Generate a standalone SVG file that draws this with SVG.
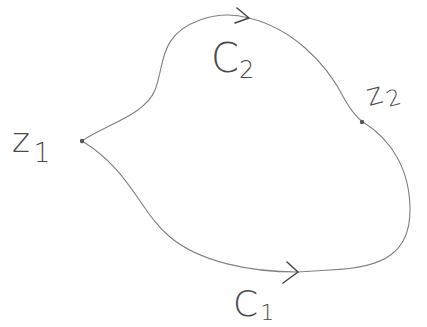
<svg xmlns="http://www.w3.org/2000/svg" width="427" height="327" viewBox="0 0 427 327">
<style>
.curve{fill:none;stroke:#808080;stroke-width:1.1;stroke-linecap:round;stroke-linejoin:round}
.arrow{fill:none;stroke:#444;stroke-width:1.5;stroke-linecap:round;stroke-linejoin:round}
.lbl{font-family:"DejaVu Sans","Liberation Sans",sans-serif;fill:#4a4a4a;font-weight:300}
.dot{fill:#555}
</style>
<rect width="427" height="327" fill="#fff"/>
<g id="connectors">
<path class="curve" d="M82,141 C105,125 145,115 155,90 C165,65 158,35 200,20 C222,12 238,15 249,18 C290,28 325,60 345,100 C352,112 357,118 363,122 C392,140 410,170 410,210 C410,252 385,268 330,270 L298,272 C250,272 200,262 170,237 C140,212 130,170 82,141"/>
<path class="arrow" d="M237,8 L249,18 L235,23"/>
<path class="arrow" d="M287,262 L298,272 L283,283"/>
</g>
<g id="z1">
<circle class="dot" cx="82" cy="141" r="2.2"/>
<text class="lbl" x="12" y="152" font-size="34">z<tspan font-size="26" dx="4" dy="10">1</tspan></text>
</g>
<g id="z2">
<circle class="dot" cx="362" cy="122" r="2.2"/>
<text class="lbl" x="368" y="103" font-size="30" transform="rotate(-15 380 100)">z<tspan font-size="22" dx="3" dy="6">2</tspan></text>
</g>
<g id="C2">
<text class="lbl" x="211" y="72" font-size="40">C<tspan font-size="24" dy="6">2</tspan></text>
</g>
<g id="C1">
<text class="lbl" x="233" y="316" font-size="36">C<tspan font-size="22" dx="2" dy="4">1</tspan></text>
</g>
</svg>
